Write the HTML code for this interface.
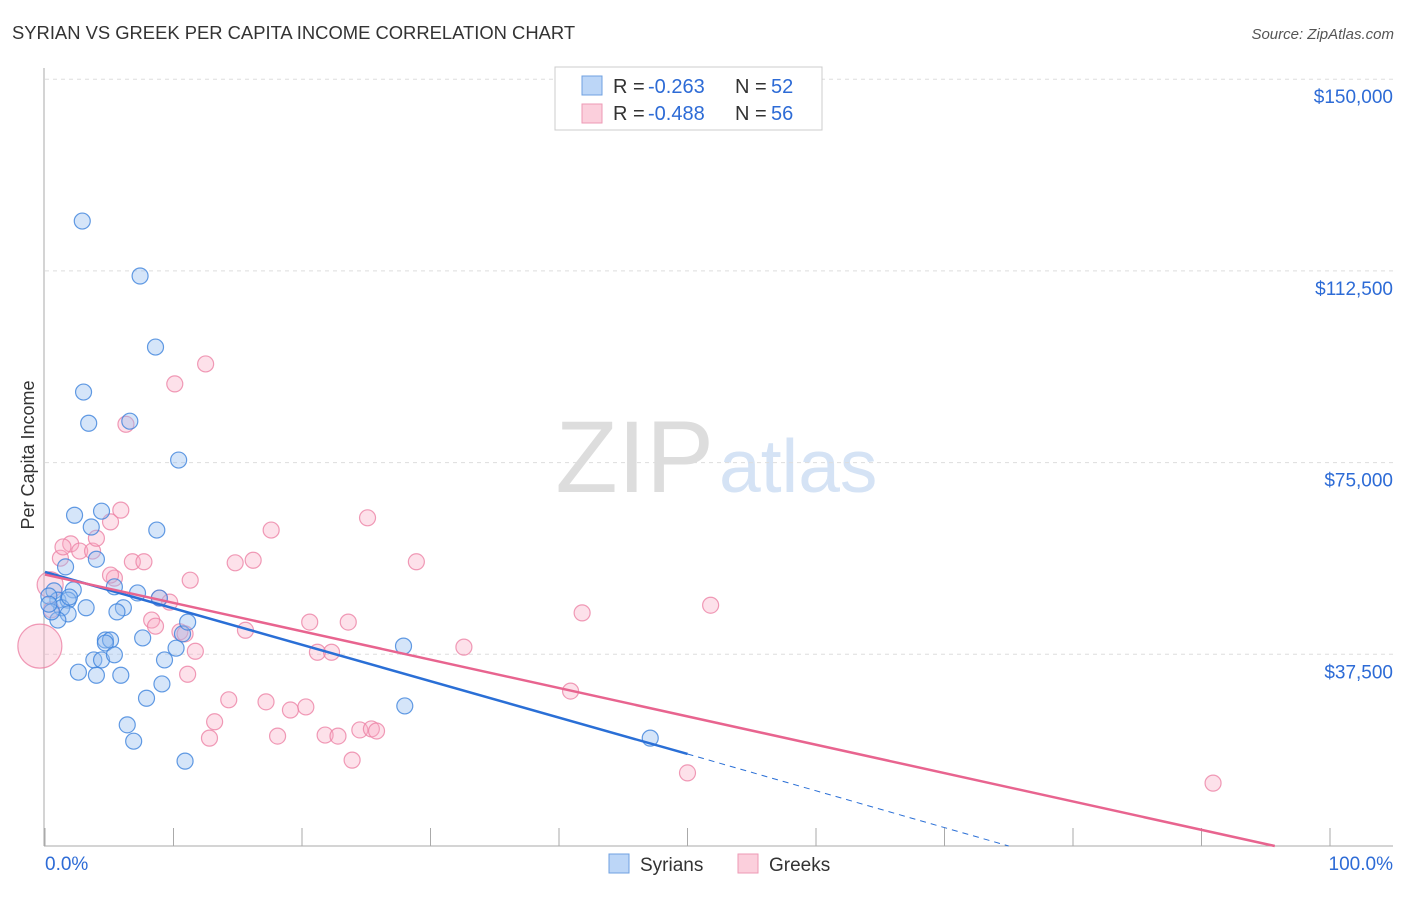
<!DOCTYPE html>
<html><head><meta charset="utf-8"><style>
body{margin:0;background:#fff;font-family:"Liberation Sans",sans-serif}
svg text{font-family:"Liberation Sans",sans-serif}
</style></head><body>
<svg id="c" width="1406" height="892">
<text x="12" y="39" font-size="18.4" fill="#333">SYRIAN VS GREEK PER CAPITA INCOME CORRELATION CHART</text>
<text x="1394" y="39" font-size="15" fill="#555" font-style="italic" text-anchor="end">Source: ZipAtlas.com</text>
<text x="34" y="455" font-size="18" fill="#333" transform="rotate(-90 34 455)" text-anchor="middle">Per Capita Income</text>
<text x="714" y="492" font-size="102" fill="#ddd" text-anchor="end" font-family="Liberation Serif">ZIP</text>
<text x="719" y="492" font-size="75" fill="#d5e3f5">atlas</text>
<g id="grid"></g><g id="pts"></g><g id="lines"></g>
<g>
<rect x="555" y="67" width="267" height="63" fill="#fff" stroke="#ccc"/>
<rect x="582" y="76" width="20" height="19" fill="#bcd6f7" stroke="#6fa0e0"/>
<rect x="582" y="104" width="20" height="19" fill="#fbcfdc" stroke="#ee9ab5"/>
<text x="613" y="93" font-size="20" fill="#333">R =</text>
<text x="648" y="93" font-size="20" fill="#2d6bd6">-0.263</text>
<text x="735" y="93" font-size="20" fill="#333">N =</text>
<text x="771" y="93" font-size="20" fill="#2d6bd6">52</text>
<text x="613" y="120" font-size="20" fill="#333">R =</text>
<text x="648" y="120" font-size="20" fill="#2d6bd6">-0.488</text>
<text x="735" y="120" font-size="20" fill="#333">N =</text>
<text x="771" y="120" font-size="20" fill="#2d6bd6">56</text>
</g>
<g>
<rect x="609" y="854" width="20" height="19" fill="#bcd6f7" stroke="#6fa0e0"/>
<text x="640" y="871" font-size="19" fill="#333">Syrians</text>
<rect x="738" y="854" width="20" height="19" fill="#fbcfdc" stroke="#ee9ab5"/>
<text x="769" y="871" font-size="19" fill="#333">Greeks</text>
</g>
<text x="45" y="870" font-size="19" fill="#2d6bd6">0.0%</text>
<text x="1393" y="870" font-size="19" fill="#2d6bd6" text-anchor="end">100.0%</text>
</svg>
<script>
const yTicks=[37500,75000,112500,150000];
const yTickLabels=["$37,500","$75,000","$112,500","$150,000"];
const syrians=[[2.9,122250],[7.4,111500],[8.6,97600],[3.0,88800],[3.4,82700],[6.6,83100],[10.4,75500],[2.3,64700],[4.4,65500],[3.6,62400],[8.7,61800],[4.0,56100],[1.6,54600],[0.7,49900],[2.2,50100],[1.0,48100],[1.8,48100],[0.3,48900],[1.3,46600],[3.2,46600],[1.8,45400],[1.0,44200],[5.4,50700],[7.2,49500],[8.9,48500],[6.1,46600],[5.6,45800],[4.7,40300],[5.1,40300],[4.7,39700],[7.6,40700],[10.7,41500],[11.1,43800],[10.2,38700],[27.9,39100],[3.8,36400],[4.4,36400],[5.4,37400],[9.3,36400],[2.6,34000],[4.0,33400],[5.9,33400],[9.1,31700],[7.9,28900],[6.4,23700],[6.9,20500],[10.9,16600],[28.0,27400],[47.1,21100],[0.5,45800],[0.3,47300],[1.9,48700]];
const greeks=[[-0.4,39100],[0.4,51100],[1.2,56300],[2.0,59100],[2.7,57700],[3.7,57700],[4.0,60200],[5.1,63400],[5.9,65700],[6.3,82500],[10.1,90400],[12.5,94300],[5.4,52400],[6.8,55600],[7.7,55600],[11.3,52000],[8.9,48500],[9.7,47700],[8.3,44200],[8.6,43000],[10.5,41900],[10.9,41500],[11.7,38100],[11.1,33600],[15.6,42200],[14.8,55400],[16.2,55900],[17.6,61800],[25.1,64200],[28.9,55600],[20.6,43800],[23.6,43800],[21.2,37900],[22.3,37900],[32.6,38900],[41.8,45600],[51.8,47100],[14.3,28600],[17.2,28200],[13.2,24300],[12.8,21100],[18.1,21500],[19.1,26600],[20.3,27200],[21.8,21700],[22.8,21500],[24.5,22700],[25.4,22900],[25.8,22500],[23.9,16800],[40.9,30300],[50.0,14300],[90.9,12300],[5.1,53000],[0.5,46200],[1.4,58500]];
const blueLine=[0,53600,50,18000,75,0];
const pinkLine=[0,53100,95.7,0];
const X=v=>45+v*12.85, Y=v=>846-v/37500*191.7;
const ns="http://www.w3.org/2000/svg";
function mk(t,a,p){const e=document.createElementNS(ns,t);for(const k in a)e.setAttribute(k,a[k]);p.appendChild(e);return e;}
const grid=document.getElementById('grid');
yTicks.forEach((v,i)=>{
 const l=mk('line',{x1:45,x2:1393,y1:Y(v),y2:Y(v),stroke:'#ddd','stroke-dasharray':'4,4'},grid);
 
 
 const t=mk('text',{x:1393,y:Y(v)+24,'font-size':19,fill:'#2d6bd6','text-anchor':'end'},grid);
 t.textContent=yTickLabels[i];
 
 
});
mk('line',{x1:44,x2:44,y1:68,y2:846,stroke:'#aaa'},grid);
mk('line',{x1:44,x2:1393,y1:846,y2:846,stroke:'#aaa'},grid);
for(let i=0;i<=10;i++){const tk=mk('line',{x1:X(i*10),x2:X(i*10),y1:828,y2:846,stroke:'#aaa'},grid);
 
 }
const pts=document.getElementById('pts');
greeks.forEach((d,i)=>{const r=i==0?22:(i==1?13:8);
 const c=mk('circle',{cx:X(d[0]),cy:Y(d[1]),r:r,fill:'rgba(248,170,195,0.35)',stroke:'rgba(236,130,165,0.8)','stroke-width':1.2},pts);
 
 });
syrians.forEach(d=>{
 const c=mk('circle',{cx:X(d[0]),cy:Y(d[1]),r:8,fill:'rgba(150,190,240,0.4)',stroke:'rgba(60,130,220,0.8)','stroke-width':1.2},pts);
 
 });
const lines=document.getElementById('lines');
const b1=mk('line',{x1:X(blueLine[0]),y1:Y(blueLine[1]),x2:X(blueLine[2]),y2:Y(blueLine[3]),stroke:'#2a6fd6','stroke-width':2.5},lines);


const b2=mk('line',{x1:X(blueLine[2]),y1:Y(blueLine[3]),x2:X(blueLine[4]),y2:Y(blueLine[5]),stroke:'#2a6fd6','stroke-width':1,'stroke-dasharray':'6,5'},lines);


const p1=mk('line',{x1:X(pinkLine[0]),y1:Y(pinkLine[1]),x2:X(pinkLine[2]),y2:Y(pinkLine[3]),stroke:'#e8648f','stroke-width':2.5},lines);


</script>
</body></html>
